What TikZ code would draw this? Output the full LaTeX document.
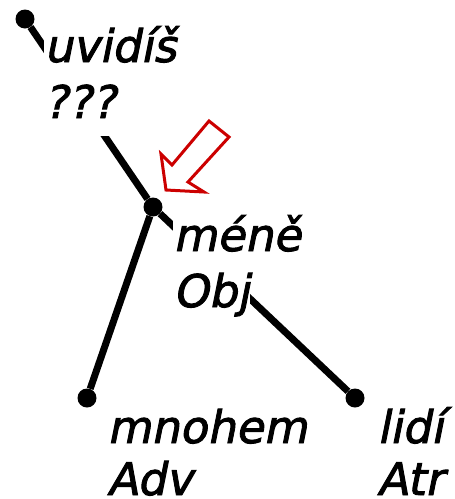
\documentclass[tikz,border=0pt]{standalone}
\usepackage{fontspec}
\setmainfont{DejaVu Sans}
\newfontfamily\lblfont{DejaVu Sans}[FakeSlant=0.2, FakeBold=2]
\usepackage{xcolor}
\definecolor{arrowred}{HTML}{CC0000}

\begin{document}
\begin{tikzpicture}[x=1pt, y=-1pt,
    dot/.style={circle, fill=black, inner sep=0pt, minimum size=19pt},
    edge/.style={line width=7pt},
    lbl/.style={anchor=base west, fill=white, inner xsep=0pt, inner ysep=0pt,
        text height=39pt, text depth=18pt,
        font=\fontsize{45}{55}\lblfont}]
    \useasboundingbox (0,0) rectangle (455,499);
    \node[dot] (uvidis) at (25,19) {};
    \node[dot] (mene) at (153,207) {};
    \node[dot] (mnohem) at (87,398) {};
    \node[dot] (lidi) at (355,398) {};
    \draw[edge] (uvidis) -- (mene);
    \draw[edge] (mene) -- (mnohem);
    \draw[edge] (mene) -- (lidi);
    % labels
    \node[lbl] (uvidis-w) at (44,62) {uvidíš};
    \node[lbl] (uvidis-f) at (44,118) {???};
    \node[lbl] (mene-w) at (173,251) {méně};
    \node[lbl] (mene-f) at (173,307) {Obj};
    \node[lbl] (mnohem-w) at (107,443) {mnohem};
    \node[lbl, text depth=2pt] (mnohem-f) at (107,495) {Adv};
    \node[lbl] (lidi-w) at (377,443) {lidí};
    \node[lbl, text depth=2pt] (lidi-f) at (377,495) {Atr};
    % pointer
    \draw[arrowred, line width=3pt, line join=miter]
        (166,190) -- (161,154) -- (172,165) -- (209,121)
        -- (229,137) -- (188,182) -- (204,192) -- cycle;
\end{tikzpicture}
\end{document}
